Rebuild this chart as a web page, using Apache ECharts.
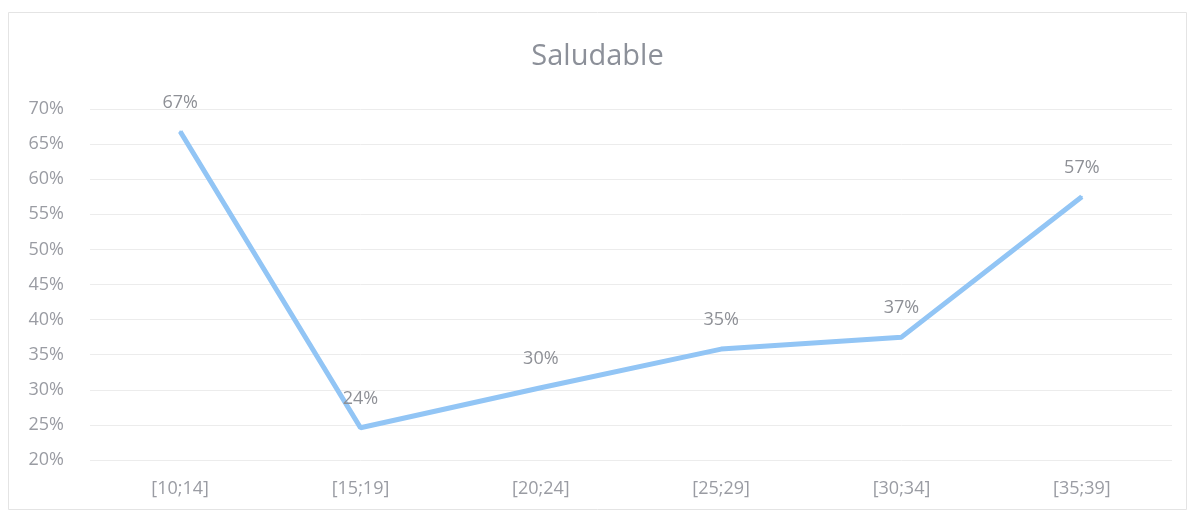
<!DOCTYPE html>
<html>
<head>
<meta charset="utf-8">
<script src="https://cdn.jsdelivr.net/npm/echarts@6/dist/echarts.min.js"></script>
<style>
  html, body { margin: 0; padding: 0; background: #fff; }
  #chart { width: 1195px; height: 513px; }
</style>
</head>
<body>
<div id="chart"></div>
<script>
// datos
const categorias = ['[10;14]', '[15;19]', '[20;24]', '[25;29]', '[30;34]', '[35;39]'];
const valores = [66.8, 24.6, 30.3, 35.8, 37.5, 57.5];
const etiquetas = ['67%', '24%', '30%', '35%', '37%', '57%'];

const chart = echarts.init(document.getElementById('chart'));

const fuente = 'Open Sans';

const option = {
  backgroundColor: '#fff',
  animation: false,
  title: {
    text: 'Saludable',
    left: 'center',
    top: 37,
    textStyle: {
      fontFamily: fuente,
      fontSize: 29,
      fontWeight: 'normal',
      color: '#8c9099'
    }
  },
  graphic: [{
    type: 'rect',
    shape: { x: 8.5, y: 12.5, width: 1178, height: 497 },
    style: { fill: 'none', stroke: '#e4e4e4', lineWidth: 1 },
    silent: true
  }],
  grid: {
    left: 90,
    right: 23,
    top: 109,
    bottom: 53
  },
  xAxis: {
    type: 'category',
    data: categorias,
    boundaryGap: true,
    axisLine: { show: false },
    axisTick: { show: false },
    axisLabel: {
      margin: 20,
      fontFamily: fuente,
      fontSize: 18,
      color: '#9a9ca3'
    }
  },
  yAxis: {
    type: 'value',
    min: 20,
    max: 70,
    interval: 5,
    axisLine: { show: false },
    axisTick: { show: false },
    splitLine: { lineStyle: { color: '#ececec', width: 1 } },
    axisLabel: {
      margin: 26,
      fontFamily: fuente,
      fontSize: 18,
      color: '#9a9ca3',
      formatter: '{value}%'
    }
  },
  series: [{
    type: 'line',
    data: valores,
    symbol: 'circle',
    symbolSize: 2,
    showSymbol: true,
    itemStyle: { color: '#92c5f5' },
    lineStyle: { color: '#92c5f5', width: 5 },
    label: {
      show: true,
      position: 'top',
      distance: 19,
      fontFamily: fuente,
      fontSize: 18,
      color: '#8e9096',
      formatter: p => etiquetas[p.dataIndex]
    }
  }]
};

chart.setOption(option);
</script>
</body>
</html>
